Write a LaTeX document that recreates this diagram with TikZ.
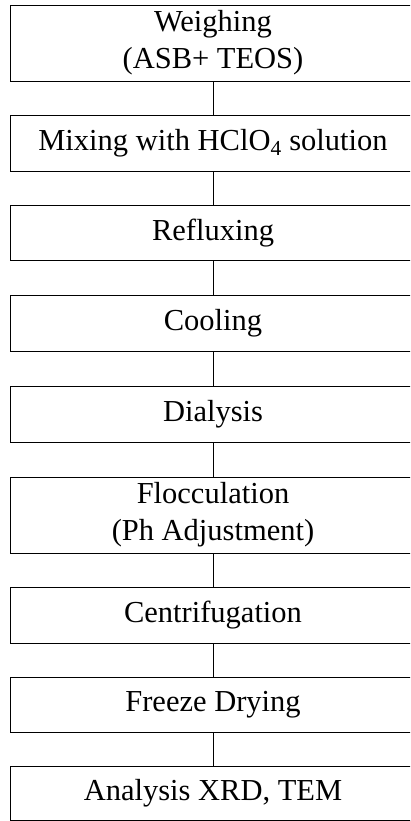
\documentclass[tikz,border=0pt]{standalone}
\usepackage{fontspec}
\setmainfont{Liberation Serif}
\begin{document}
\begin{tikzpicture}
  [x=1pt,y=-1pt,every node/.style={rectangle,draw=black,line width=0.8pt,minimum width=406pt,inner sep=0pt,align=center,font=\fontsize{30.5}{37}\selectfont}]
  \useasboundingbox (0,0) rectangle (410,821);
  \clip (0,0) rectangle (410,821);
  \node[minimum height=76pt] (n1) at (213,43) {Weighing\\(ASB+ TEOS)};
  \node[minimum height=56pt] (n2) at (213,143) {Mixing with HClO\textsubscript{4} solution};
  \node[minimum height=55pt] (n3) at (213,233) {Refluxing};
  \node[minimum height=56pt] (n4) at (213,323) {Cooling};
  \node[minimum height=56pt] (n5) at (213,414) {Dialysis};
  \node[minimum height=76pt] (n6) at (213,515) {Flocculation\\(Ph Adjustment)};
  \node[minimum height=56pt] (n7) at (213,615) {Centrifugation};
  \node[minimum height=55pt] (n8) at (213,704.5) {Freeze Drying};
  \node[minimum height=54pt] (n9) at (213,793) {Analysis XRD, TEM};

  % Lineas entre las etapas
  \draw[line width=0.8pt] (n1) -- (n2);
  \draw[line width=0.8pt] (n2) -- (n3);
  \draw[line width=0.8pt] (n3) -- (n4);
  \draw[line width=0.8pt] (n4) -- (n5);
  \draw[line width=0.8pt] (n5) -- (n6);
  \draw[line width=0.8pt] (n6) -- (n7);
  \draw[line width=0.8pt] (n7) -- (n8);
  \draw[line width=0.8pt] (n8) -- (n9);
\end{tikzpicture}
\end{document}
